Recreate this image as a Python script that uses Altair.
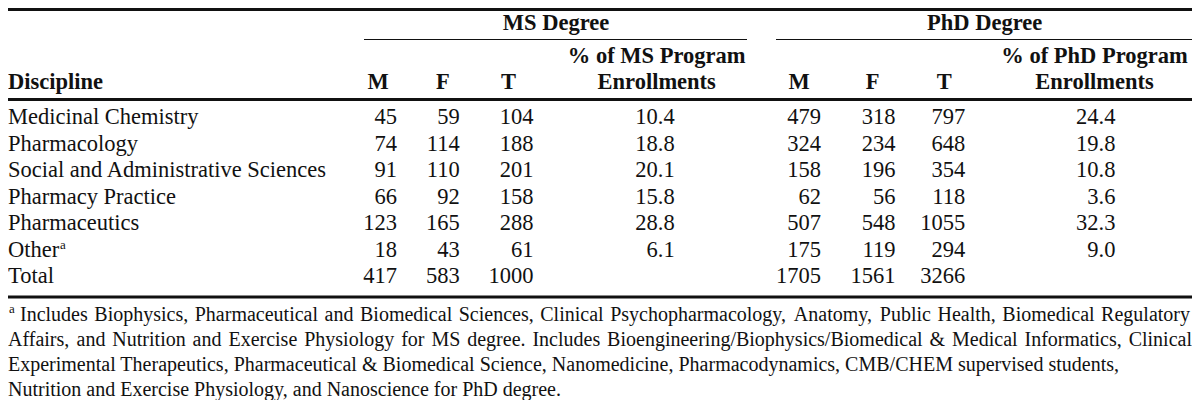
import altair as alt
import pandas as pd

# ---------------- data ----------------
disciplines = ["Medicinal Chemistry", "Pharmacology", "Social and Administrative Sciences",
               "Pharmacy Practice", "Pharmaceutics", "Other", "Total"]
ms_m = [45, 74, 91, 66, 123, 18, 417]
ms_f = [59, 114, 110, 92, 165, 43, 583]
ms_t = [104, 188, 201, 158, 288, 61, 1000]
ms_pct = ["10.4", "18.8", "20.1", "15.8", "28.8", "6.1", ""]
phd_m = [479, 324, 158, 62, 507, 175, 1705]
phd_f = [318, 234, 196, 56, 548, 119, 1561]
phd_t = [797, 648, 354, 118, 1055, 294, 3266]
phd_pct = ["24.4", "19.8", "10.8", "3.6", "32.3", "9.0", ""]

group_headers = ["MS Degree", "PhD Degree"]
sub_headers = ["M", "F", "T"]
pct_headers = ["% of MS Program", "% of PhD Program"]
pct_header2 = "Enrollments"
row_header = "Discipline"
footnote_mark = "a"
footnote_lines = [
    "Includes Biophysics, Pharmaceutical and Biomedical Sciences, Clinical Psychopharmacology, Anatomy, Public Health, Biomedical Regulatory",
    "Affairs, and Nutrition and Exercise Physiology for MS degree. Includes Bioengineering/Biophysics/Biomedical & Medical Informatics, Clinical",
    "Experimental Therapeutics, Pharmaceutical & Biomedical Science, Nanomedicine, Pharmacodynamics, CMB/CHEM supervised students,",
    "Nutrition and Exercise Physiology, and Nanoscience for PhD degree.",
]
footnote_justified = [True, True, False, False]

# ---------------- layout ----------------
W, H = 1184, 392
FONT = "Liberation Serif"
BODY = 22.5
FOOT = 20
INK = "#111111"

# Times / Liberation Serif advance widths (per 1000 em) used to justify footnote lines
_TW = {" ": 250, ",": 250, ".": 250, "/": 278, "&": 778, "-": 333}
_TW.update({d: 500 for d in "0123456789"})
_TW.update(dict(zip("ABCDEFGHIJKLMNOPQRSTUVWXYZ",
                    [722, 667, 667, 722, 611, 556, 722, 722, 333, 389, 722, 611, 889,
                     722, 722, 556, 722, 667, 556, 611, 722, 722, 944, 722, 722, 611])))
_TW.update(dict(zip("abcdefghijklmnopqrstuvwxyz",
                    [444, 500, 444, 500, 444, 333, 500, 500, 278, 278, 500, 278, 778,
                     500, 500, 500, 500, 333, 389, 278, 500, 500, 722, 500, 500, 444])))


def text_width(s, size):
    return sum(_TW.get(c, 500) for c in s) * size / 1000.0


rows_df = pd.DataFrame({
    "discipline": disciplines,
    "ms_m": [str(v) for v in ms_m],
    "ms_f": [str(v) for v in ms_f],
    "ms_t": [str(v) for v in ms_t],
    "ms_pct": ms_pct,
    "phd_m": [str(v) for v in phd_m],
    "phd_f": [str(v) for v in phd_f],
    "phd_t": [str(v) for v in phd_t],
    "phd_pct": phd_pct,
})

yrow = alt.Y("discipline:N",
             scale=alt.Scale(type="point", domain=disciplines, range=[116.4, 275.4], padding=0),
             axis=None)


def col_layer(field, x, align):
    return alt.Chart(rows_df).mark_text(
        font=FONT, fontSize=BODY, align=align, baseline="alphabetic", color=INK
    ).encode(x=alt.value(x), y=yrow, text=f"{field}:N")


def label(text, x, y, size=BODY, bold=False, align="center"):
    return alt.Chart(pd.DataFrame({"t": [text]})).mark_text(
        font=FONT, fontSize=size, fontWeight="bold" if bold else "normal",
        align=align, baseline="alphabetic", color=INK
    ).encode(x=alt.value(x), y=alt.value(y), text="t:N")


def justified(line, x0, x1, y, size):
    words = line.split(" ")
    widths = [text_width(w, size) for w in words]
    gap = (x1 - x0 - sum(widths)) / (len(words) - 1)
    xs, cur = [], x0
    for w in widths:
        xs.append(cur)
        cur += w + gap
    df = pd.DataFrame({"w": words, "px": xs})
    return alt.Chart(df).mark_text(
        font=FONT, fontSize=size, align="left", baseline="alphabetic", color=INK
    ).encode(x=alt.X("px:Q", scale=None), y=alt.value(y), text="w:N")


def hline(x1, x2, y, w):
    return alt.Chart(pd.DataFrame({"k": [0]})).mark_rule(
        strokeWidth=w, color=INK
    ).encode(x=alt.value(x1), x2=alt.value(x2), y=alt.value(y))


HEAD_Y = 80.5
layers = []
# rules
layers.append(hline(0, W, 1.5, 3))
layers.append(hline(356, 739, 31.5, 1))
layers.append(hline(768, W, 31.5, 1))
layers.append(hline(0, W, 91.5, 3))
layers.append(hline(0, W, 289, 3))

# group headers
layers.append(label(group_headers[0], 548, 21.5, bold=True))
layers.append(label(group_headers[1], 976.6, 21.5, bold=True))
# % headers
layers.append(label(pct_headers[0], 648.7, 55, bold=True))
layers.append(label(pct_headers[1], 1086.5, 55, bold=True))
layers.append(label(pct_header2, 648.7, HEAD_Y, bold=True))
layers.append(label(pct_header2, 1086.5, HEAD_Y, bold=True))
layers.append(label(row_header, 0, HEAD_Y, bold=True, align="left"))
for name, x in zip(sub_headers, [370, 434.8, 500.5]):
    layers.append(label(name, x, HEAD_Y, bold=True))
for name, x in zip(sub_headers, [791, 864.7, 936.3]):
    layers.append(label(name, x, HEAD_Y, bold=True))

# body columns
layers.append(col_layer("discipline", 0, "left"))
layers.append(col_layer("ms_m", 389, "right"))
layers.append(col_layer("ms_f", 451.7, "right"))
layers.append(col_layer("ms_t", 525.4, "right"))
layers.append(col_layer("ms_pct", 666.7, "right"))
layers.append(col_layer("phd_m", 813, "right"))
layers.append(col_layer("phd_f", 887.5, "right"))
layers.append(col_layer("phd_t", 957.2, "right"))
layers.append(col_layer("phd_pct", 1107.4, "right"))
# superscript on "Other"
layers.append(label(footnote_mark, 52, 240.5, size=13, align="left"))

# footnote
layers.append(label(footnote_mark, 1, 305, size=13, align="left"))
for i, (line, y) in enumerate(zip(footnote_lines, [312.5, 337.5, 362.5, 387.5])):
    x0 = 12 if i == 0 else 0
    if footnote_justified[i]:
        x1 = 1182 if i == 0 else W
        layers.append(justified(line, x0, x1, y, FOOT))
    else:
        layers.append(label(line, x0, y, size=FOOT, align="left"))

chart = alt.layer(*layers).properties(
    width=W, height=H,
    autosize=alt.AutoSizeParams(type="none"),
    padding=0,
    background="white",
).configure_view(stroke=None)

chart.save("out.html", embed_options={"renderer": "svg", "actions": False})
